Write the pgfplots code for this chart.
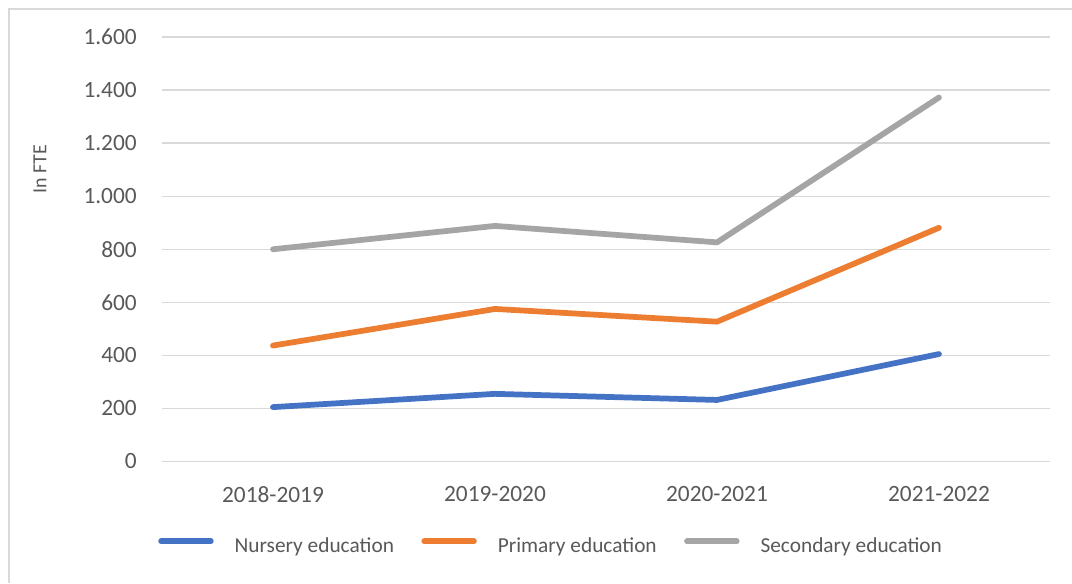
\documentclass[border=0pt]{standalone}
\usepackage{pgfplots}
\pgfplotsset{compat=1.18}
\usepackage{fontspec}
\setmainfont{Carlito}
\definecolor{cblue}{HTML}{4472C4}
\definecolor{corange}{HTML}{ED7D31}
\definecolor{cgrey}{HTML}{A5A5A5}
\definecolor{gridc}{HTML}{D9D9D9}
\definecolor{txt}{HTML}{595959}
\begin{document}
\begin{tikzpicture}
\useasboundingbox (0pt,0pt) rectangle (804pt,437.25pt);
\fill[white] (0pt,0pt) rectangle (804pt,437.25pt);
\draw[gridc, line width=1pt] (6.75pt,0pt) -- (6.75pt,430.5pt) -- (804pt,430.5pt);
\begin{axis}[
  at={(121.5pt,91.125pt)}, anchor=south west,
  scale only axis, width=666pt, height=318.375pt,
  xmin=-0.5, xmax=3.5, ymin=0, ymax=1600,
  xtick={0,1,2,3},
  xticklabels={2018-2019,2019-2020,2020-2021,2021-2022},
  ytick={0,200,...,1600},
  ymajorgrids, major grid style={draw=gridc, line width=1pt},
  axis line style={draw=none}, tick style={draw=none},
  /pgf/number format/.cd, fixed, precision=0, 1000 sep={.}, assume math mode=true,
  /pgfplots/.cd,
  ticklabel style={font=\fontsize{17.5}{20}\selectfont, text=txt},
  xticklabel style={anchor=north, inner sep=0pt, yshift=-18.4pt},
  yticklabel style={anchor=east, inner sep=0pt, xshift=-18.75pt},
  ylabel={In FTE},
  ylabel style={at={(axis description cs:-0.1374,0.689)}, anchor=center, rotate=0,
    font=\fontsize{15}{17}\selectfont, text=txt, inner sep=0pt},
  clip=false,
  legend columns=3,
  legend style={at={(axis description cs:-0.0045,-0.199)}, anchor=west,
    draw=none, fill=none, inner sep=0pt,
    font=\fontsize{16}{19}\selectfont, text=txt,
    nodes={inner sep=0pt},
    /tikz/every odd column/.append style={column sep=15.75pt},
    /tikz/every even column/.append style={column sep=20.6pt}},
  legend image code/.code={\draw[#1] (2pt,0.35em) -- (39.25pt,0.35em);},
  every axis plot/.append style={line width=4.3pt, line cap=round, line join=round},
]
\addplot[cblue] coordinates {(0,205) (1,255) (2,232) (3,405)};
\addlegendentry{Nursery education}
\addplot[corange] coordinates {(0,437) (1,575) (2,527) (3,881)};
\addlegendentry{Primary education}
\addplot[cgrey] coordinates {(0,800) (1,888) (2,826) (3,1372)};
\addlegendentry{Secondary education}
\end{axis}
\end{tikzpicture}
\end{document}
